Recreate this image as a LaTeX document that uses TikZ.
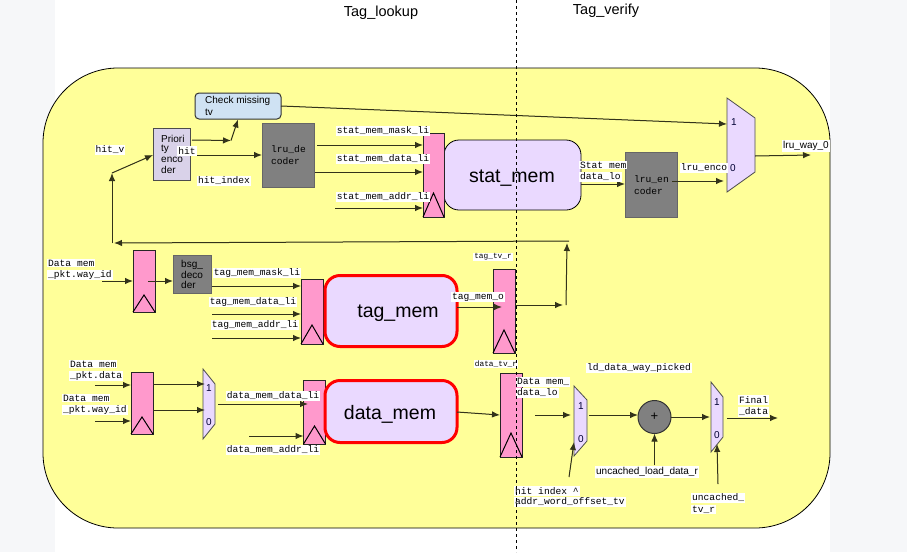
\documentclass[tikz,border=0pt]{standalone}
\usepackage{fontspec}
\setmainfont{Liberation Sans}
\setmonofont{Liberation Mono}
\usetikzlibrary{arrows.meta}
\definecolor{pagegray}{HTML}{F6F7F9}
\definecolor{shellyellow}{HTML}{FFFF99}
\definecolor{regpink}{HTML}{FF99CC}
\definecolor{memlilac}{HTML}{EAD9FF}
\definecolor{enclilac}{HTML}{D9D2E9}
\definecolor{checkblue}{HTML}{CFE2F3}
\definecolor{wiregray}{HTML}{33331A}
\tikzset{
  regbox/.style={draw=black!85,line width=1pt,fill=regpink,inner sep=0,outer sep=0},
  graybox/.style={draw=black!60,line width=1pt,fill=black!50,inner sep=0,outer sep=0},
  membox/.style={draw=black,line width=.8pt,fill=memlilac,rounded corners=15pt,inner sep=0,outer sep=0},
  redmem/.style={membox,draw=red,line width=3pt},
  muxbox/.style={draw=black!70,line width=.8pt,fill=memlilac},
  wire/.style={draw=wiregray,fill=black,line width=1pt,-{Latex[length=8pt,width=6.5pt]}},
  lab/.style={fill=white,inner sep=1pt,font=\ttfamily\fontsize{9.6}{11}\selectfont},
  smalllab/.style={fill=white,inner sep=1pt,font=\ttfamily\fontsize{7.8}{9}\selectfont},
  sanslab/.style={fill=white,inner sep=1pt,font=\fontsize{10}{12}\selectfont},
  boxtext/.style={inner sep=0,anchor=west,font=\fontsize{10}{12}\selectfont},
  monotext/.style={inner sep=0,anchor=west,font=\ttfamily\fontsize{9.6}{11}\selectfont},
  memtext/.style={inner sep=0,font=\fontsize{19.5}{22}\selectfont},
  muxtext/.style={inner sep=0,text=black!80!blue,font=\fontsize{10}{11}\selectfont}
}
\begin{document}
\begin{tikzpicture}[x=1pt,y=-1pt]
  \useasboundingbox (0,0) rectangle (907,552);
  \fill[pagegray] (0,0) rectangle (907,552);
  \fill[white] (55,0) rectangle (830,552);
  \draw[fill=shellyellow,draw=black,line width=.8pt,rounded corners=75pt] (43,68) rectangle (830,528);
  \node[inner sep=0,font=\fontsize{14.5}{16}\selectfont] (lookuptitle) at (381,13) {Tag\_lookup};
  \node[inner sep=0,font=\fontsize{14.5}{16}\selectfont] (verifytitle) at (606,11) {Tag\_verify};
  % boxes, top row
  \node[draw=black!80,line width=1pt,fill=checkblue,rounded corners=4pt,minimum width=86pt,minimum height=26pt,inner sep=0,outer sep=0] (check) at (238,106) {};
  \node[draw=black!70,line width=1pt,fill=enclilac,minimum width=37pt,minimum height=52pt,inner sep=0,outer sep=0] (prio) at (171.5,154) {};
  \node[graybox,minimum width=52pt,minimum height=64pt] (lrudec) at (288,155) {};
  \node[membox,minimum width=137pt,minimum height=70pt] (statmem) at (512.5,175) {};
  \node[regbox,minimum width=21pt,minimum height=84pt] (statreg) at (433.5,175) {};
  \node[graybox,minimum width=52pt,minimum height=65pt] (lruenc) at (651,184.5) {};
  % boxes, tag row
  \node[regbox,minimum width=22pt,minimum height=62pt] (wayreg) at (144,281) {};
  \node[graybox,minimum width=38pt,minimum height=38pt] (bsgdec) at (192,274) {};
  \node[regbox,minimum width=22pt,minimum height=65pt] (tagreg) at (312,311.5) {};
  \node[redmem,minimum width=132pt,minimum height=71pt] (tagmem) at (391,311) {};
  \node[regbox,minimum width=22pt,minimum height=84pt] (tagtv) at (504,311) {};
  % boxes, data row
  \node[regbox,minimum width=22pt,minimum height=62pt] (pktreg) at (142,403) {};
  \node[regbox,minimum width=22pt,minimum height=64pt] (datareg) at (314.5,412) {};
  \node[redmem,minimum width=132pt,minimum height=62pt] (datamem) at (391,411.5) {};
  \node[regbox,minimum width=22pt,minimum height=84pt] (datatv) at (511,415) {};
  \node[draw=black!80,line width=1pt,fill=black!50,circle,minimum size=33pt,inner sep=0,outer sep=0,font=\fontsize{13}{13}\selectfont] (adder) at (654.5,417) {+};
  % clock marks
  \draw[line width=1pt] (statreg.south west) -- (433.5,193) -- (statreg.south east);
  \draw[line width=1pt] (wayreg.south west) -- (144,295) -- (wayreg.south east);
  \draw[line width=1pt] (tagreg.south west) -- (312,325) -- (tagreg.south east);
  \draw[line width=1pt] (tagtv.south west) -- (504,330) -- (tagtv.south east);
  \draw[line width=1pt] (pktreg.south west) -- (142,417) -- (pktreg.south east);
  \draw[line width=1pt] (datareg.south west) -- (314.5,426) -- (datareg.south east);
  \draw[line width=1pt] (datatv.south west) -- (511,433) -- (datatv.south east);
  % muxes
  \draw[muxbox] (727,98) -- (755,118) -- (755,172) -- (727,192) -- cycle;
  \draw[muxbox] (203,369) -- (215,384) -- (215,424) -- (203,439) -- cycle;
  \draw[muxbox] (574,386) -- (587,400) -- (587,441) -- (574,456) -- cycle;
  \draw[muxbox] (711,382) -- (723,397) -- (723,437) -- (711,452) -- cycle;
  \node[muxtext] (lruone) at (734,122) {1};
  \node[muxtext] (lruzero) at (733,168) {0};
  \node[muxtext] (pktone) at (209,388) {1};
  \node[muxtext] (pktzero) at (209,422) {0};
  \node[muxtext] (ldone) at (581,406) {1};
  \node[muxtext] (ldzero) at (581,439) {0};
  \node[muxtext] (finalone) at (717,402) {1};
  \node[muxtext] (finalzero) at (717,435) {0};
  % free ends
  \coordinate (hitup) at (231,140.5);
  \coordinate (hitstart) at (192,140);
  \coordinate (hitv) at (112,173);
  \coordinate (backleft) at (112,243);
  \coordinate (backright) at (569,241);
  \coordinate (tagout) at (566,305);
  \coordinate (lruin) at (727,124);
  \coordinate (statmask) at (317,145);
  \coordinate (statdata) at (315,172);
  \coordinate (stataddr) at (335,208);
  \coordinate (lruencout) at (724,181);
  \coordinate (lruwayout) at (811,155);
  \coordinate (lrumuxout) at (755,156);
  \coordinate (wayin) at (102,281);
  \coordinate (tagmask) at (212,286);
  \coordinate (tagdata) at (212,314);
  \coordinate (tagaddr) at (212,338);
  \coordinate (pktin) at (95,385);
  \coordinate (pktwayin) at (95,421);
  \coordinate (pktmuxa) at (205,384);
  \coordinate (pktmuxb) at (205,410);
  \coordinate (muxdatafrom) at (218,404);
  \coordinate (muxdatato) at (308,404);
  \coordinate (dataaddr) at (249,436);
  \coordinate (ldfrom) at (535,415);
  \coordinate (ldto) at (571,415);
  \coordinate (ldsel) at (569,477);
  \coordinate (ldseltip) at (574,442);
  \coordinate (ldout) at (589,415);
  \coordinate (loadfrom) at (654.5,465);
  \coordinate (finalin) at (710,417);
  \coordinate (finalout) at (727,418);
  \coordinate (finalend) at (778,418);
  \coordinate (uncfrom) at (718,484);
  \coordinate (unctip) at (717,444);
  % connectors
  \draw[wire] (hitstart) -- (hitup);
  \draw[wire] (hitup) -- (238,119.5);
  \draw[wire] (prio.east |- 0,155) -- (lrudec.west |- 0,155);
  \draw[wire] (backleft) -- (hitv);
  \draw[wire] (hitv) -- (prio.west |- 0,155);
  \draw[wire] (backright) -- (114,243);
  \draw[wire] (tagtv.east |- tagout) -- (563,305);
  \draw[wire] (tagout) -- (567,243);
  \draw[wire] (check.east) -- (lruin);
  \draw[wire] (statmask) -- (statmask -| statreg.west);
  \draw[wire] (statdata) -- (statdata -| statreg.west);
  \draw[wire] (stataddr) -- (stataddr -| statreg.west);
  \draw[wire] (statmem.east |- 0,184) -- (lruenc.west |- 0,184);
  \draw[wire] (672,181) -- (lruencout);
  \draw[wire] (lrumuxout) -- (lruwayout);
  \draw[wire] (wayin) -- (wayin -| wayreg.west);
  \draw[wire] (148,281) -- (bsgdec.west |- 0,281);
  \draw[wire] (tagmask) -- (tagmask -| tagreg.west);
  \draw[wire] (tagdata) -- (tagdata -| tagreg.west);
  \draw[wire] (tagaddr) -- (tagaddr -| tagreg.west);
  \draw[wire] (tagmem.east |- 0,307) -- (502,307);
  \draw[wire] (pktin) -- (pktin -| pktreg.west);
  \draw[wire] (pktwayin) -- (pktwayin -| pktreg.west);
  \draw[wire] (pktmuxa -| pktreg.east) -- (pktmuxa);
  \draw[wire] (pktmuxb -| pktreg.east) -- (pktmuxb);
  \draw[wire] (muxdatafrom) -- (muxdatato);
  \draw[wire] (dataaddr) -- (dataaddr -| datareg.west);
  \draw[wire] (datamem.east |- 0,412) -- (datatv.west |- 0,415);
  \draw[wire] (ldfrom) -- (ldto);
  \draw[wire] (ldsel) -- (ldseltip);
  \draw[wire] (ldout) -- (adder.west |- ldout);
  \draw[wire] (loadfrom) -- (adder.south);
  \draw[wire] (adder.east) -- (finalin);
  \draw[wire] (finalout) -- (finalend);
  \draw[wire] (uncfrom) -- (unctip);
  % text in boxes
  \node[boxtext] (checka) at (205,101) {Check missing};
  \node[boxtext] (checkb) at (205,112) {tv};
  \node[boxtext] (prioa) at (161,139) {Priori};
  \node[boxtext] (priob) at (161,149.5) {ty};
  \node[boxtext] (prioc) at (161,160) {enco};
  \node[boxtext] (priod) at (161,170) {der};
  \node[monotext] (lrudeca) at (271,150) {lru\_de};
  \node[monotext] (lrudecb) at (271,161) {coder};
  \node[monotext] (lruenca) at (634,180) {lru\_en};
  \node[monotext] (lruencb) at (634,191) {coder};
  \node[boxtext] (bsga) at (181,265) {bsg\_};
  \node[boxtext] (bsgb) at (181,275) {deco};
  \node[boxtext] (bsgc) at (181,285) {der};
  \node[memtext] (stattext) at (512,178) {stat\_mem};
  \node[memtext] (tagtext) at (398,313.5) {tag\_mem};
  \node[memtext] (datatext) at (390,414.5) {data\_mem};
  % labels
  \node[lab] (hitvlab) at (110,150) {hit\_v};
  \node[lab] (hitlab) at (187,151) {hit};
  \node[lab] (hitindexlab) at (224,181) {hit\_index};
  \node[lab] (maskstat) at (383,131) {stat\_mem\_mask\_li};
  \node[lab] (datastat) at (383,159) {stat\_mem\_data\_li};
  \node[lab] (addrstat) at (383,197) {stat\_mem\_addr\_li};
  \node[lab,anchor=west] (statloa) at (579,165) {Stat mem};
  \node[lab,anchor=west] (statlob) at (579,177) {data\_lo};
  \node[lab] (lruenclab) at (704,168) {lru\_enco};
  \node[sanslab] (lruwaylab) at (806,146) {lru\_way\_0};
  \node[lab,anchor=west] (wayida) at (47,263) {Data mem};
  \node[lab,anchor=west] (wayidb) at (47,275) {\_pkt.way\_id};
  \node[lab] (masktag) at (257,273) {tag\_mem\_mask\_li};
  \node[lab] (datatag) at (253,302) {tag\_mem\_data\_li};
  \node[lab] (addrtag) at (255,325) {tag\_mem\_addr\_li};
  \node[smalllab] (tagtvlab) at (493,257) {tag\_tv\_r};
  \node[lab] (tagolab) at (478,297) {tag\_mem\_o};
  \node[smalllab] (datatvlab) at (496,364) {data\_tv\_r};
  \node[lab,anchor=west] (pktdataa) at (69,364) {Data mem};
  \node[lab,anchor=west] (pktdatab) at (69,376) {\_pkt.data};
  \node[lab,anchor=west] (pktwaya) at (62,398) {Data mem};
  \node[lab,anchor=west] (pktwayb) at (62,410) {\_pkt.way\_id};
  \node[lab] (datadata) at (273,396) {data\_mem\_data\_li};
  \node[lab] (dataaddrlab) at (273,450) {data\_mem\_addr\_li};
  \node[lab,anchor=west] (dataloa) at (516,382) {Data mem\_};
  \node[lab,anchor=west] (datalob) at (516,392.5) {data\_lo};
  \node[lab] (ldlab) at (639,368) {ld\_data\_way\_picked};
  \node[lab,anchor=west] (finala) at (738,400) {Final};
  \node[lab,anchor=west] (finalb) at (738,412) {\_data};
  \node[sanslab] (loadlab) at (647,472) {uncached\_load\_data\_r};
  \node[lab,anchor=west] (uncacheda) at (691,498) {uncached\_};
  \node[lab,anchor=west] (uncachedb) at (691,509.5) {tv\_r};
  \node[lab,anchor=west] (selb) at (514,502) {addr\_word\_offset\_tv};
  \node[lab,anchor=west] (sela) at (514,491) {hit index \^{}};
  % stage split
  \draw[dashed,line width=.8pt] (516.5,0) -- (516.5,552);
\end{tikzpicture}
\end{document}
